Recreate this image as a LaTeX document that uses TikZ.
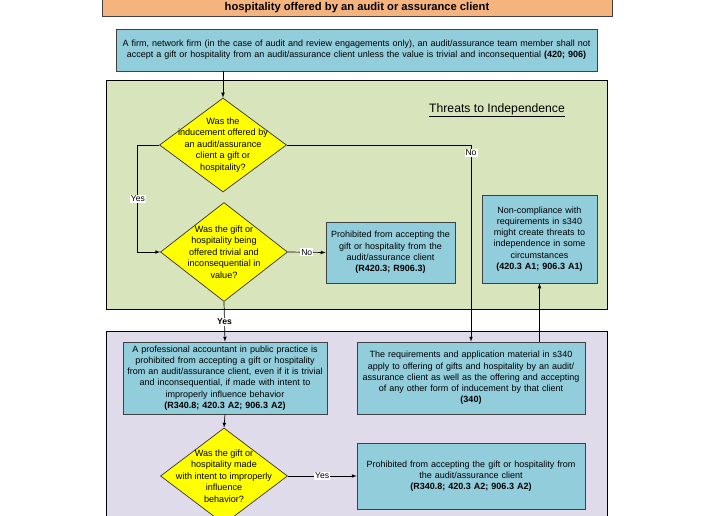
\documentclass[tikz,border=0pt]{standalone}
\usepackage{fontspec}
\setmainfont{Liberation Sans}
\usetikzlibrary{shapes.geometric}
\definecolor{ttlorange}{RGB}{245,180,125}
\definecolor{boxblue}{RGB}{146,205,220}
\definecolor{regiongreen}{RGB}{216,228,188}
\definecolor{regionlilac}{RGB}{223,219,234}
\definecolor{askyellow}{RGB}{255,255,0}
\begin{document}
\begin{tikzpicture}[x=1pt,y=-1pt,>=latex,
  titlebox/.style={draw=black!75, line width=0.8pt, fill=ttlorange, minimum width=510pt, inner sep=3pt, font=\fontsize{11.2}{12}\selectfont\bfseries},
  infobox/.style={draw=black!75, line width=0.7pt, fill=boxblue, inner sep=0pt, align=center, font=\fontsize{9}{11.3}\selectfont},
  ask/.style={diamond, draw=black!80, line width=0.7pt, fill=askyellow, inner sep=0pt, minimum width=127pt, minimum height=#1},
  asktext/.style={align=center, inner sep=0pt, font=\fontsize{9.1}{11.6}\selectfont},
  lbl/.style={fill=white, inner sep=1pt, font=\fontsize{8.6}{10}\selectfont}]
\useasboundingbox (0,0) rectangle (713,516);
\clip (0,0) rectangle (713,516);
% regions
\draw[fill=regiongreen, line width=0.8pt] (106,80) rectangle (607,309);
\draw[fill=regionlilac, line width=0.8pt] (106,331) rectangle (607,540);
\node[font=\fontsize{12.2}{14}\selectfont] (thr) at (497,110) {\underline{Threats to Independence}};
% top
\node[titlebox, anchor=south, text height=28pt, text depth=3pt] (ttl) at (357,17) {hospitality offered by an audit or assurance client};
\node[infobox, minimum width=481pt, minimum height=42pt, text width=479pt] (rule) at (356.5,50) {A firm, network firm (in the case of audit and review engagements only), an audit/assurance team member shall not\\accept a gift or hospitality from an audit/assurance client unless the value is trivial and inconsequential \textbf{(420; 906)}};
% decisions
\node[ask=94pt] (d1) at (223,145) {};
\node[asktext] (d1t) at (d1) {Was the\\inducement offered by\\an audit/assurance\\client a gift or\\hospitality?};
\node[ask=99pt] (d2) at (224,252) {};
\node[asktext] (d2t) at (d2) {Was the gift or\\hospitality being\\offered trivial and\\inconsequential in\\value?};
\node[ask=96pt] (d3) at (224,476) {};
\node[asktext] (d3t) at (d3) {Was the gift or\\hospitality made\\with intent to improperly\\influence\\behavior?};
% outcomes
\node[infobox, minimum width=129pt, minimum height=61pt, text width=127pt] (p1) at (390.5,252.5) {Prohibited from accepting the\\gift or hospitality from the\\audit/assurance client\\\textbf{(R420.3; R906.3)}};
\node[infobox, minimum width=115pt, minimum height=88pt, text width=113pt] (nc) at (539.5,239) {Non-compliance with\\requirements in s340\\might create threats to\\independence in some\\circumstances\\\textbf{(420.3 A1; 906.3 A1)}};
\node[infobox, minimum width=204pt, minimum height=72pt, text width=202pt] (intent) at (225,378) {A professional accountant in public practice is\\prohibited from accepting a gift or hospitality\\from an audit/assurance client, even if it is trivial\\and inconsequential, if made with intent to\\improperly influence behavior\\\textbf{(R340.8; 420.3 A2; 906.3 A2)}};
\node[infobox, minimum width=228pt, minimum height=72pt, text width=226pt] (req) at (471,378) {The requirements and application material in s340\\apply to offering of gifts and hospitality by an audit/\\assurance client as well as the offering and accepting\\of any other form of inducement by that client\\\textbf{(340)}};
\node[infobox, minimum width=228pt, minimum height=66pt, text width=226pt] (p2) at (471,476) {Prohibited from accepting the gift or hospitality from\\the audit/assurance client\\\textbf{(R340.8; 420.3 A2; 906.3 A2)}};
% connectors
\draw[->, line width=0.7pt] (d1.north |- rule.south) -- (d1.north);
\draw[->, line width=0.7pt] (d1.west) -- ++(-22,0) |- (d2.west);
\node[lbl] (yes1) at (138,199) {Yes};
\draw[->, line width=0.7pt] (d1.east) -| (req.north) node[lbl, pos=0.52] {No};
\draw[->, line width=0.7pt] (d2.east) -- (p1.west) node[lbl, midway] {No};
\draw[->, line width=0.7pt] (d2.south) -- (intent.north) node[lbl, midway] {\textbf{Yes}};
\draw[->, line width=0.7pt] (nc.south |- req.north) -- (nc.south);
\draw[->, line width=0.7pt] (intent.south) -- (d3.north);
\draw[->, line width=0.7pt] (d3.east) -- (p2.west) node[lbl, midway] {Yes};
\end{tikzpicture}
\end{document}
